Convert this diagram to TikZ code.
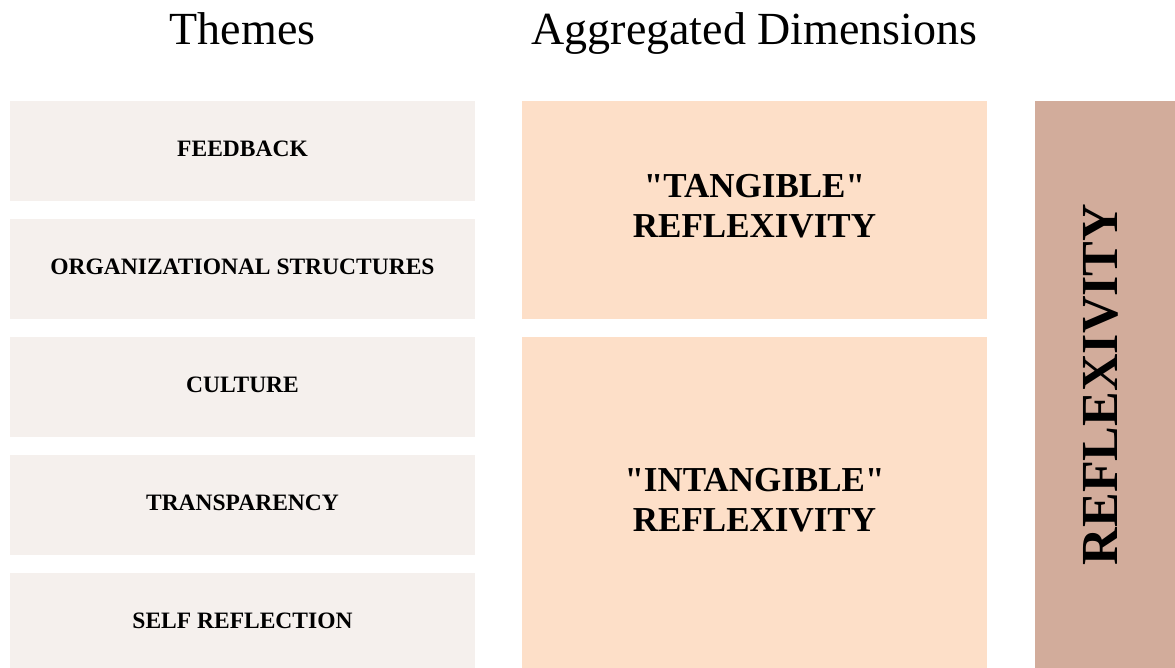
\documentclass[tikz,border=0pt]{standalone}
\usepackage{fontspec}
\setmainfont{Liberation Serif}

\definecolor{themefill}{HTML}{F5F0ED}
\definecolor{dimfill}{HTML}{FDDFC8}
\definecolor{corefill}{HTML}{D2AC9B}

\tikzset{
	heading/.style = {anchor=base, font=\fontsize{46}{52}\selectfont},
	themebox/.style = {fill=themefill, minimum width=465pt, minimum height=100pt, inner sep=0pt, text depth=5pt, font=\bfseries\fontsize{23.5}{27}\selectfont},
	dimbox/.style = {fill=dimfill, minimum width=465pt, inner sep=0pt},
	dimtext/.style = {align=center, inner sep=0pt, font=\bfseries\fontsize{35}{40}\selectfont},
}

\begin{document}
\begin{tikzpicture}[x=1pt, y=-1pt]
		\useasboundingbox (0,0) rectangle (1175,668);
		\node [heading] (themes) at (242.5,45) {Themes};
		\node [heading] (dims) at (754.5,45) {Aggregated Dimensions};
		% left column
		\node [themebox] (feedback) at (242.5,151) {FEEDBACK};
		\node [themebox] (structures) at (242.5,269) {ORGANIZATIONAL STRUCTURES};
		\node [themebox] (culture) at (242.5,387) {CULTURE};
		\node [themebox] (transparency) at (242.5,505) {TRANSPARENCY};
		\node [themebox] (selfrefl) at (242.5,623) {SELF REFLECTION};
		% middle column
		\node [dimbox, minimum height=218pt] (tangible) at (754.5,210) {};
		\node [dimtext] (tangtext) at ([yshift=4pt]tangible.center) {\textquotedbl TANGIBLE\textquotedbl\\REFLEXIVITY};
		\node [dimbox, minimum height=331pt] (intangible) at (754.5,502.5) {};
		\node [dimtext] (intangtext) at ([yshift=2.5pt]intangible.center) {\textquotedbl INTANGIBLE\textquotedbl\\REFLEXIVITY};
		% right column
		\node [fill=corefill, minimum width=140pt, minimum height=567pt, inner sep=0pt] (core) at (1105,384.5) {};
		\node [rotate=90, inner sep=0pt, font=\bfseries\fontsize{52}{60}\selectfont] (coretext) at ([xshift=-4pt]core.center) {REFLEXIVITY};
		%\draw (tangible.east) -- (core.west);
	\end{tikzpicture}
\end{document}
